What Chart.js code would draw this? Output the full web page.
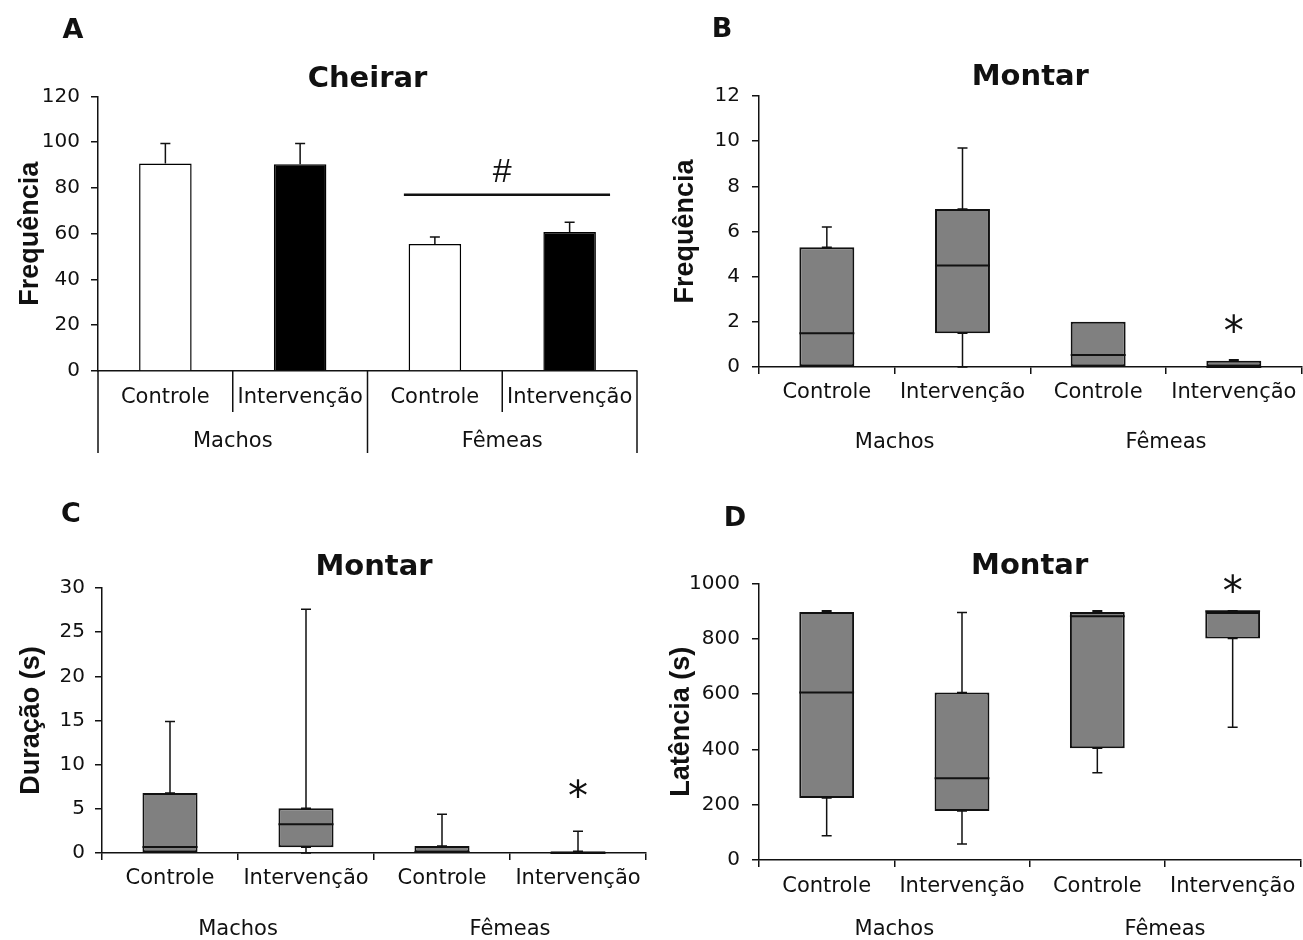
<!DOCTYPE html>
<html>
<head>
<meta charset="utf-8">
<script src="https://cdn.jsdelivr.net/npm/chart.js@4.4.0/dist/chart.umd.min.js"></script>
<style>
  body { margin: 0; background: #fff; width: 1303px; height: 940px; overflow: hidden; position: relative; }
  canvas { position: absolute; }
</style>
</head>
<body>
<canvas id="cA" width="651" height="470" style="left:0;top:0"></canvas>
<canvas id="cB" width="652" height="470" style="left:651px;top:0"></canvas>
<canvas id="cC" width="651" height="470" style="left:0;top:470px"></canvas>
<canvas id="cD" width="652" height="470" style="left:651px;top:470px"></canvas>
<script>
// categorias comuns aos quatro painéis
const categories = ['Controle', 'Intervenção', 'Controle', 'Intervenção'];
const groups = ['Machos', 'Fêmeas'];

// A - Cheirar, frequência (média + EPM)
const cheirarMean = [90.7, 90.3, 55.5, 60.7];
const cheirarSem = [8.7, 9.1, 3.1, 4.3];
const cheirarColors = ['#ffffff', '#000000', '#ffffff', '#000000'];
const cheirarAxis = [0, 120, 20];      // min, max, passo
const hashLineValue = 77;
const hashTextValue = 86.5;

// B - Montar, frequência (mediana, quartis, extremos)
const freqMin = [0, 0, 0, 0];
const freqQ1 = [0, 1.5, 0, 0];
const freqMedian = [1.5, 4.5, 0.53, 0];
const freqQ3 = [5.3, 7.0, 2.0, 0.28];
const freqMax = [6.2, 9.7, 2.0, 0.32];
const freqAxis = [0, 12, 2];
const freqStar = 1.95;

// C - Montar, duração (s)
const durMin = [0, 0, 0, 0];
const durQ1 = [0, 0.65, 0, 0];
const durMedian = [0.68, 3.25, 0.1, 0];
const durQ3 = [6.8, 5.07, 0.8, 0.2];
const durMax = [14.9, 27.6, 4.4, 2.45];
const durAxis = [0, 30, 5];
const durStar = 7.4;

// D - Montar, latência (s)
const latMin = [88, 58, 315, 480];
const latQ1 = [224, 177, 404, 801];
const latMedian = [606, 296, 881, 899];
const latQ3 = [897, 606, 897, 897];
const latMax = [901, 895, 901, 901];
const latAxis = [0, 1000, 200];
const latStar = 1000;

const tickFont = "'DejaVu Sans', sans-serif";
const ink = '#111';

function yScale(range, title, width, labelPad, titlePad) {
  return {
    min: range[0], max: range[1],
    ticks: { stepSize: range[2], padding: labelPad, color: ink, callback: v => String(v),
      font: { family: tickFont, size: 20 } },
    grid: { drawOnChartArea: false, drawTicks: true, tickLength: 7, color: ink, lineWidth: 1.5 },
    border: { color: ink, width: 1.5 },
    title: { display: true, text: title, color: ink,
      font: { family: "'Liberation Sans', Arial, sans-serif", size: 27, weight: 'bold' },
      padding: { top: titlePad, bottom: 0 } },
    afterFit: s => { s.width = width; }
  };
}

function xScale(height, labelPad, ticks) {
  return {
    offset: true,
    ticks: { padding: labelPad, color: ink, maxRotation: 0, autoSkip: false, font: { family: tickFont, size: 21 } },
    grid: { offset: true, drawOnChartArea: false, drawTicks: ticks, tickLength: 7, color: ink, lineWidth: 1.5 },
    border: { color: ink, width: 1.5 },
    weight: 1,
    afterFit: s => { s.height = height; }
  };
}

function groupScale(height, labelPad) {
  return {
    type: 'category', labels: groups, position: 'bottom', offset: true,
    ticks: { padding: labelPad, color: ink, maxRotation: 0, font: { family: tickFont, size: 21 } },
    grid: { display: false, drawTicks: false },
    border: { display: false },
    weight: 2,
    afterFit: s => { s.height = height; }
  };
}

function titleOpts(text, top, bottom) {
  return { display: true, text: text, color: ink, fullSize: false,
    font: { family: tickFont, size: 29, weight: 'bold' }, padding: { top: top, bottom: bottom } };
}

function panelLetter(text, x, y) {
  return {
    id: 'panelLetter',
    afterDraw(chart) {
      const ctx = chart.ctx;
      ctx.save();
      ctx.fillStyle = ink;
      ctx.font = "bold 27px 'DejaVu Sans'";
      ctx.textAlign = 'center';
      ctx.textBaseline = 'middle';
      ctx.fillText(text, x, y);
      ctx.restore();
    }
  };
}

function starMark(index, value) {
  return {
    id: 'starMark',
    afterDatasetsDraw(chart) {
      const { ctx, scales: { x, y } } = chart;
      ctx.save();
      ctx.fillStyle = ink;
      ctx.font = "40px 'DejaVu Sans'";
      ctx.textAlign = 'center';
      ctx.textBaseline = 'alphabetic';
      ctx.fillText('*', x.getPixelForValue(index), y.getPixelForValue(value) + 22);
      ctx.restore();
    }
  };
}

// mediana e bigodes desenhados sobre as barras flutuantes (quartis)
function whiskers(mins, q1, medians, q3, maxs) {
  return {
    id: 'whiskers',
    afterDatasetsDraw(chart) {
      const { ctx, scales: { y } } = chart;
      const meta = chart.getDatasetMeta(0);
      ctx.save();
      ctx.strokeStyle = ink;
      meta.data.forEach((box, i) => {
        const { x, width } = box.getProps(['x', 'width'], true);
        const half = width / 2;
        const py = v => y.getPixelForValue(v);
        ctx.lineWidth = 2;
        ctx.beginPath();
        ctx.moveTo(x - half, py(medians[i]));
        ctx.lineTo(x + half, py(medians[i]));
        ctx.stroke();
        ctx.lineWidth = 1.5;
        ctx.beginPath();
        [[q3[i], maxs[i]], [q1[i], mins[i]]].forEach(([a, b]) => {
          if (a === b) return;
          ctx.moveTo(x, py(a));
          ctx.lineTo(x, py(b));
          ctx.moveTo(x - 5, py(b));
          ctx.lineTo(x + 5, py(b));
          ctx.moveTo(x - 5, py(a));
          ctx.lineTo(x + 5, py(a));
        });
        ctx.stroke();
      });
      ctx.restore();
    }
  };
}

const cheirarMarks = {
  id: 'cheirarMarks',
  afterDatasetsDraw(chart) {
    const { ctx, scales: { x, y }, chartArea } = chart;
    const meta = chart.getDatasetMeta(0);
    ctx.save();
    ctx.strokeStyle = ink;
    ctx.lineWidth = 1.5;
    // barras de erro
    meta.data.forEach((bar, i) => {
      const { x: bx, y: by } = bar.getProps(['x', 'y'], true);
      const top = y.getPixelForValue(cheirarMean[i] + cheirarSem[i]);
      ctx.beginPath();
      ctx.moveTo(bx, by);
      ctx.lineTo(bx, top);
      ctx.moveTo(bx - 5, top);
      ctx.lineTo(bx + 5, top);
      ctx.stroke();
    });
    // divisórias do eixo x (categoria e grupo)
    for (let i = 0; i <= categories.length; i++) {
      const px = x.getPixelForValue(i - 0.5);
      ctx.beginPath();
      ctx.moveTo(px, chartArea.bottom);
      ctx.lineTo(px, chartArea.bottom + (i % 2 === 0 ? 82 : 41));
      ctx.stroke();
    }
    // diferença entre sexos
    ctx.lineWidth = 2.5;
    ctx.beginPath();
    ctx.moveTo(x.getPixelForValue(1.77), y.getPixelForValue(hashLineValue));
    ctx.lineTo(x.getPixelForValue(3.3), y.getPixelForValue(hashLineValue));
    ctx.stroke();
    ctx.fillStyle = ink;
    ctx.font = "34px 'Liberation Sans', Arial";
    ctx.textAlign = 'center';
    ctx.textBaseline = 'middle';
    ctx.fillText('#', x.getPixelForValue(2.5), y.getPixelForValue(hashTextValue));
    ctx.restore();
  }
};

const common = {
  responsive: false,
  animation: false,
  events: []
};

new Chart(document.getElementById('cA'), {
  type: 'bar',
  data: {
    labels: categories,
    datasets: [{ data: cheirarMean, backgroundColor: cheirarColors, borderColor: '#000',
      borderWidth: 1.5, barPercentage: 0.39, categoryPercentage: 1 }]
  },
  options: Object.assign({}, common, {
    layout: { padding: { left: 0, right: 14, top: 0, bottom: 7 } },
    plugins: { legend: { display: false }, tooltip: { enabled: false }, title: titleOpts('Cheirar', 61.6, 0) },
    scales: {
      x: xScale(42, 14.4, false),
      x2: groupScale(50, 16.4),
      y: yScale(cheirarAxis, 'Frequência', 98, 11, 14)
    }
  }),
  plugins: [cheirarMarks, panelLetter('A', 73, 31)]
});

function boxChart(id, q1, q3, extra, cfg) {
  return new Chart(document.getElementById(id), {
    type: 'bar',
    data: {
      labels: categories,
      datasets: [{ data: q1.map((v, i) => [v, q3[i]]), backgroundColor: '#808080', borderColor: ink,
        borderWidth: 2, borderSkipped: false, barPercentage: 0.405, categoryPercentage: 1 }]
    },
    options: Object.assign({}, common, {
      layout: { padding: cfg.padding },
      plugins: { legend: { display: false }, tooltip: { enabled: false }, title: cfg.title },
      scales: { x: cfg.x, x2: cfg.x2, y: cfg.y }
    }),
    plugins: extra
  });
}

boxChart('cB', freqQ1, freqQ3,
  [whiskers(freqMin, freqQ1, freqMedian, freqQ3, freqMax), starMark(3, freqStar), panelLetter('B', 71, 30)], {
  padding: { left: 0, right: 1, top: 0, bottom: 5 },
  title: titleOpts('Montar', 59.6, 1.6),
  x: xScale(48, 6.4, true),
  x2: groupScale(50, 15.4),
  y: yScale(freqAxis, 'Frequência', 108, 12, 18)
});

boxChart('cC', durQ1, durQ3,
  [whiskers(durMin, durQ1, durMedian, durQ3, durMax), starMark(3, durStar), panelLetter('C', 71, 45)], {
  padding: { left: 0, right: 5, top: 0, bottom: 0 },
  title: titleOpts('Montar', 79.6, 3.6),
  x: xScale(48, 6.4, true),
  x2: groupScale(39, 16.4),
  y: yScale(durAxis, 'Duração (s)', 102, 10, 15)
});

boxChart('cD', latQ1, latQ3,
  [whiskers(latMin, latQ1, latMedian, latQ3, latMax), starMark(3, latStar), panelLetter('D', 84, 49)], {
  padding: { left: 0, right: 1, top: 0, bottom: 0 },
  title: titleOpts('Montar', 78.6, 0),
  x: xScale(46, 7.4, true),
  x2: groupScale(34, 11.4),
  y: yScale(latAxis, 'Latência (s)', 108, 12, 14)
});
</script>
</body>
</html>
